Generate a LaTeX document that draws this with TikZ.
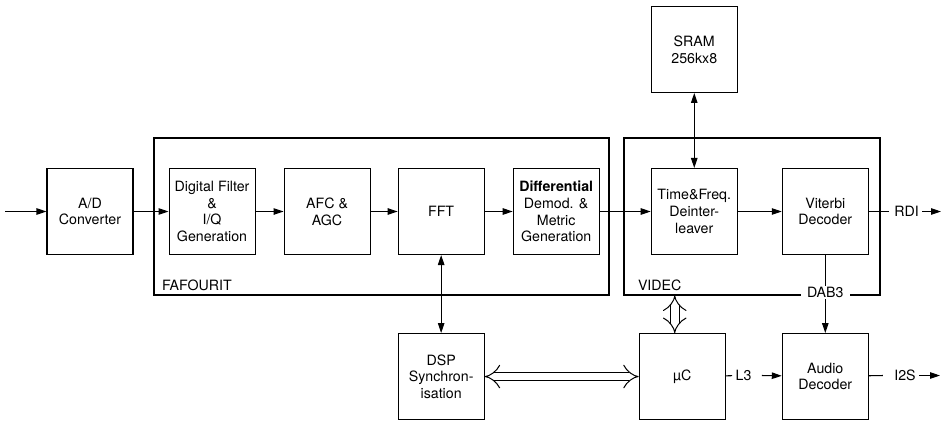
\documentclass[tikz,border=0pt]{standalone}
\usepackage{fontspec}
\setmainfont{TeX Gyre Heros}
\usetikzlibrary{positioning,arrows.meta}

\begin{document}
\begin{tikzpicture}[
  x=1pt,y=-1pt,
  font=\fontsize{14.2}{16.7}\selectfont,
  line width=1.05pt,
  block/.style={draw,align=center,minimum width=86pt,minimum height=86pt,
                inner sep=2pt},
  frame/.style={draw,minimum height=157pt},
  tag/.style={inner sep=0pt},
  arr/.style={-{Triangle[length=10pt,width=6.5pt]}},
  biarr/.style={{Triangle[length=10pt,width=6.5pt]}-{Triangle[length=10pt,width=6.5pt]}},
  bus/.style={double,double distance=7.5pt,line width=1pt,
              {Implies[scale=0.75]}-{Implies[scale=0.75]}}
]
\useasboundingbox (0,0) rectangle (942,421);

% chip outlines
\node[frame,minimum width=455pt] (fafourit) at (381.5,216.5) {};
\node[frame,minimum width=256pt] (videc) at (752,216.5) {};
\node[tag,anchor=base west] at ([xshift=8pt,yshift=5pt]fafourit.south west) {FAFOURIT};
\node[tag,anchor=base west] at ([xshift=14pt,yshift=5pt]videc.south west) {VIDEC};

% signal chain
\node[block] (ad) at (90,211.5) {A/D\\Converter};
\node[block,right=35pt of ad] (filt) {Digital Filter\\\&\\I/Q\\Generation};
\node[block,right=28pt of filt] (afc) {AFC \&\\AGC};
\node[block,right=27pt of afc] (fft) {FFT};
\node[block,right=28pt of fft] (demod)
  {\textbf{Differential}\\Demod. \&\\Metric\\Generation};
\node[block,right=51pt of demod] (deint) {Time\&Freq.\\Deinter-\\leaver};
\node[block,right=44pt of deint] (vit) {Viterbi\\Decoder};
\node[block,above=75pt of deint] (sram) {SRAM\\256kx8};

% lower row
\node[block,below=78pt of fft] (dsp) {DSP\\Synchron-\\isation};
\node[block,below=78pt of vit] (audio) {Audio\\Decoder};
\node[block,left=56pt of audio] (uc) {µC};

\coordinate (in) at (5,211.5);
\coordinate (rdiout) at (941,211.5);
\coordinate (i2sout) at (940,375.5);

\draw[arr] (in) -- (ad);
\foreach \u/\v in {ad/filt,filt/afc,afc/fft,fft/demod,demod/deint,deint/vit}
  {\draw[arr] (\u)--(\v);}

\node[tag] (rdi) at (906.5,211.5) {RDI};
\draw (vit) -- ([xshift=-5pt]rdi.west);
\draw[arr] ([xshift=3pt]rdi.east) -- (rdiout);

\draw[biarr] (sram) -- (deint);
\draw[biarr] (fft) -- (dsp);

\node[fill=white,inner xsep=6pt,inner ysep=1pt,yshift=3pt] (dab)
  at (vit.south |- videc.south) {DAB3};
\draw (vit) -- (dab);
\draw[arr] (dab) -- (audio);

\draw[bus] (dsp) -- (uc);
\draw[bus] ([xshift=-7.5pt]uc.north) -- ([xshift=-7.5pt]uc.north |- videc.south);

\node[tag,inner sep=3pt] (l3) at (743.5,375.5) {L3};
\draw (uc) -- (l3);
\draw[arr] ([xshift=7pt]l3.east) -- (audio);

\node[tag] (i2s) at (905,375.5) {I2S};
\draw (audio) -- ([xshift=-11pt]i2s.west);
\draw[arr] ([xshift=3pt]i2s.east) -- (i2sout);

\end{tikzpicture}
\end{document}
